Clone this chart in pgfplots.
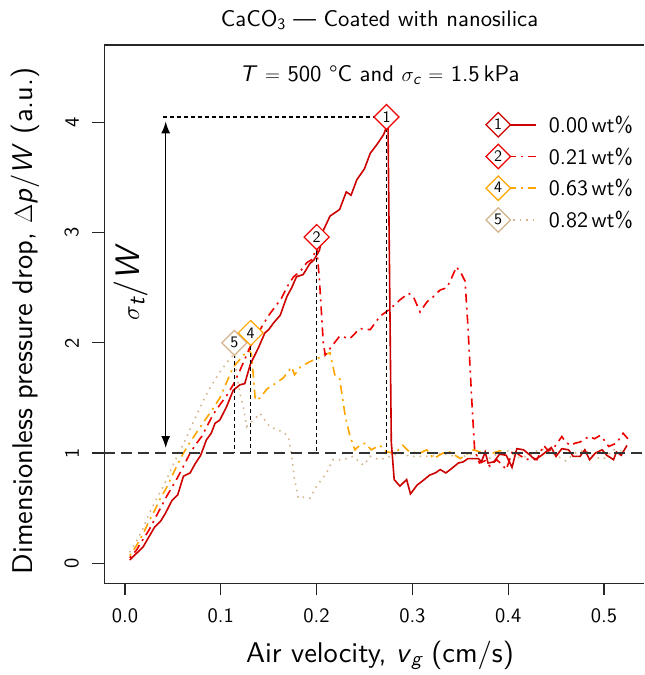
\documentclass[border=0pt]{standalone}
\usepackage{amsmath}
\usepackage{fontspec}
\setsansfont{lmsans10-regular.otf}[BoldFont=lmsans10-bold.otf, ItalicFont=lmsans10-oblique.otf]
\usepackage{pgfplots}
\pgfplotsset{compat=1.18}
\usetikzlibrary{arrows.meta,shapes.geometric}
\renewcommand{\familydefault}{\sfdefault}
\definecolor{c1}{RGB}{205,0,0}
\definecolor{c2}{RGB}{238,0,0}
\definecolor{c4}{RGB}{255,165,0}
\definecolor{c5}{RGB}{210,180,140}
\newcommand{\basefont}{\fontsize{20.5}{24}\selectfont}
\newcommand{\txtfont}{\fontsize{22.7}{27}\selectfont}
\newcommand{\legfont}{\fontsize{22}{26}\selectfont}
\newcommand{\labfont}{\fontsize{28.5}{33}\selectfont}
\newcommand{\mkfont}{\fontsize{16}{16}\selectfont}
\newcommand{\si}[1]{\textit{#1}}
\tikzset{mdiam/.style={diamond, aspect=1, minimum width=25pt, minimum height=25pt, inner sep=0pt, fill=white, line width=1.2pt, text=black, font=\mkfont}}
\begin{document}
\begin{tikzpicture}
\begin{axis}[
  scale only axis, width=539.7pt, height=538.3pt,
  xmin=-0.0216, xmax=0.5418, ymin=-0.1815, ymax=4.703,
  axis x line*=bottom, axis y line*=left,
  axis line style={line width=1.2pt, black!85, -},
  xtick={0,0.1,0.2,0.3,0.4,0.5}, ytick={0,1,2,3,4},
  tick align=outside, major tick length=12pt,
  tick style={line width=1.2pt, black!85},
  /pgf/number format/assume math mode=true,
  tick label style={font=\basefont},
  xticklabel style={/pgf/number format/fixed, /pgf/number format/fixed zerofill, /pgf/number format/precision=1},
  yticklabel style={rotate=90, anchor=south},
  xticklabel shift=10pt, yticklabel shift=10pt,
  clip=false,
  legend cell align=left,
  legend style={at={(axis cs:0.376,4.097)}, anchor=north west, draw=none, fill=none, inner sep=0pt, row sep=6pt, column sep=10pt, font=\legfont, nodes={inner sep=2pt}},
]
\addlegendimage{legend image code/.code={\draw[c1, line width=1.6pt] (15pt,0pt) -- (51pt,0pt); \node[mdiam, draw=c1] at (0pt,0pt) {1};}}
\addlegendentry{0.00\,wt\%}
\addlegendimage{legend image code/.code={\draw[c2, line width=1.6pt, dash pattern=on 2pt off 5pt on 9pt off 5pt] (15pt,0pt) -- (51pt,0pt); \node[mdiam, draw=c2] at (0pt,0pt) {2};}}
\addlegendentry{0.21\,wt\%}
\addlegendimage{legend image code/.code={\draw[c4, line width=1.6pt, dash pattern=on 2pt off 5pt on 9pt off 5pt] (15pt,0pt) -- (51pt,0pt); \node[mdiam, draw=c4] at (0pt,0pt) {4};}}
\addlegendentry{0.63\,wt\%}
\addlegendimage{legend image code/.code={\draw[c5, line width=1.6pt, dash pattern=on 1.5pt off 5pt] (15pt,0pt) -- (51pt,0pt); \node[mdiam, draw=c5] at (0pt,0pt) {5};}}
\addlegendentry{0.82\,wt\%}

% 0.82 wt% (tan dotted)
\addplot[forget plot, c5, line width=1.6pt, dash pattern=on 1.5pt off 5pt] table {
0.005 0.10
0.012 0.20
0.019 0.32
0.025 0.45
0.031 0.55
0.037 0.65
0.043 0.75
0.049 0.87
0.056 1.00
0.062 1.10
0.068 1.22
0.075 1.35
0.082 1.48
0.088 1.58
0.095 1.68
0.101 1.76
0.108 1.84
0.1145 1.90
0.116 1.75
0.120 1.54
0.1235 1.42
0.127 1.24
0.134 1.30
0.141 1.36
0.151 1.24
0.165 1.19
0.1705 1.15
0.174 0.97
0.177 0.76
0.181 0.59
0.186 0.60
0.193 0.59
0.200 0.70
0.2105 0.82
0.217 0.94
0.228 0.94
0.238 0.97
0.249 0.89
0.256 0.97
0.266 0.94
0.277 0.97
0.287 1.00
0.298 0.97
0.308 0.97
0.320 0.97
0.330 1.00
0.340 0.98
0.350 0.96
0.360 0.99
0.370 0.97
0.380 0.95
0.390 1.00
0.400 1.02
0.410 0.96
0.420 0.97
0.430 1.02
0.440 1.04
0.450 0.98
0.460 0.93
0.470 1.00
0.480 1.03
0.490 0.96
0.500 0.95
0.510 1.03
0.520 1.02
};
% 0.63 wt% (orange dash-dot)
\addplot[forget plot, c4, line width=1.6pt, dash pattern=on 2pt off 5pt on 9pt off 5pt] table {
0.005 0.07
0.012 0.16
0.019 0.27
0.025 0.38
0.031 0.48
0.037 0.59
0.043 0.68
0.049 0.79
0.055 0.90
0.061 1.00
0.068 1.10
0.075 1.19
0.082 1.28
0.090 1.38
0.099 1.50
0.106 1.64
0.113 1.78
0.120 1.85
0.129 1.94
0.132 1.90
0.134 1.70
0.136 1.48
0.141 1.50
0.148 1.58
0.155 1.62
0.165 1.68
0.174 1.78
0.177 1.71
0.183 1.78
0.193 1.83
0.204 1.87
0.207 1.89
0.214 1.91
0.219 1.71
0.224 1.68
0.230 1.33
0.235 1.15
0.240 1.03
0.245 1.07
0.251 1.09
0.257 1.03
0.266 1.07
0.273 1.01
0.282 1.00
0.290 1.07
0.297 1.01
0.308 1.00
0.315 1.03
0.322 0.95
0.332 1.00
0.339 1.01
0.350 0.95
0.364 1.03
0.374 1.00
0.384 1.00
0.395 1.03
};
% 0.21 wt% (red dash-dot)
\addplot[forget plot, c2, line width=1.6pt, dash pattern=on 2pt off 5pt on 9pt off 5pt] table {
0.005 0.05
0.012 0.12
0.019 0.22
0.025 0.30
0.031 0.40
0.037 0.50
0.043 0.60
0.049 0.69
0.055 0.78
0.061 0.88
0.068 1.00
0.074 1.08
0.080 1.15
0.086 1.25
0.092 1.35
0.100 1.45
0.106 1.52
0.113 1.62
0.120 1.75
0.126 1.87
0.131 1.97
0.137 2.05
0.143 2.15
0.150 2.25
0.157 2.33
0.163 2.40
0.170 2.52
0.176 2.60
0.183 2.65
0.190 2.73
0.196 2.76
0.200 2.88
0.203 2.57
0.207 2.00
0.209 1.89
0.215 1.96
0.224 2.06
0.235 2.04
0.245 2.13
0.256 2.12
0.266 2.24
0.277 2.31
0.287 2.39
0.296 2.45
0.301 2.42
0.308 2.28
0.315 2.37
0.322 2.42
0.329 2.48
0.336 2.50
0.341 2.59
0.346 2.69
0.351 2.63
0.355 2.56
0.358 2.15
0.362 1.48
0.365 1.03
0.370 0.91
0.376 0.93
0.381 0.88
0.388 0.94
0.393 0.90
0.398 0.85
0.405 1.03
0.412 0.98
0.419 0.94
0.425 0.96
0.430 0.94
0.437 1.07
0.442 1.02
0.447 1.04
0.452 1.10
0.456 1.15
0.460 1.10
0.465 1.07
0.470 1.09
0.475 1.10
0.480 1.13
0.485 1.15
0.490 1.13
0.496 1.16
0.500 1.12
0.505 1.06
0.513 1.09
0.520 1.18
0.525 1.13
};
% 0.00 wt% (red solid)
\addplot[forget plot, c1, line width=1.6pt] table {
0.005 0.03
0.012 0.09
0.019 0.15
0.025 0.24
0.031 0.33
0.037 0.38
0.042 0.45
0.049 0.57
0.055 0.62
0.061 0.79
0.068 0.82
0.073 0.90
0.079 0.98
0.085 1.12
0.090 1.18
0.094 1.27
0.099 1.30
0.106 1.42
0.113 1.57
0.120 1.62
0.125 1.63
0.131 1.81
0.139 1.95
0.146 2.09
0.150 2.12
0.155 2.18
0.162 2.25
0.169 2.42
0.174 2.50
0.179 2.60
0.186 2.62
0.193 2.72
0.197 2.75
0.203 2.84
0.207 3.02
0.214 3.15
0.224 3.21
0.231 3.37
0.236 3.34
0.242 3.48
0.250 3.58
0.256 3.72
0.263 3.80
0.270 3.89
0.273 3.96
0.2745 4.02
0.278 1.10
0.281 0.76
0.287 0.70
0.294 0.76
0.298 0.63
0.305 0.71
0.311 0.75
0.318 0.80
0.324 0.82
0.329 0.85
0.335 0.82
0.341 0.86
0.348 0.91
0.353 0.92
0.358 0.95
0.364 0.95
0.369 0.95
0.372 0.92
0.376 1.01
0.379 0.91
0.385 0.92
0.391 0.99
0.398 0.98
0.404 0.87
0.409 1.04
0.416 1.03
0.423 0.98
0.428 0.94
0.435 0.98
0.442 1.03
0.445 1.05
0.450 0.97
0.456 1.04
0.463 1.03
0.468 0.97
0.475 0.97
0.480 1.03
0.485 0.94
0.491 1.00
0.498 1.03
0.503 0.98
0.510 0.94
0.513 1.01
0.518 0.98
0.524 1.07
};

% reference lines
\addplot[forget plot, black!80, line width=1.4pt, dash pattern=on 11pt off 6pt] coordinates {(-0.0216,1) (0.5418,1)};
\addplot[forget plot, black, line width=1.2pt, dash pattern=on 4pt off 3pt] coordinates {(0.1141,1.90) (0.1141,1)};
\addplot[forget plot, black, line width=1.2pt, dash pattern=on 4pt off 3pt] coordinates {(0.1312,1.97) (0.1312,1)};
\addplot[forget plot, black, line width=1.2pt, dash pattern=on 4pt off 3pt] coordinates {(0.2001,2.90) (0.2001,1)};
\addplot[forget plot, black, line width=1.2pt, dash pattern=on 4pt off 3pt] coordinates {(0.273,3.95) (0.273,1)};
\addplot[forget plot, black, line width=1.2pt, dash pattern=on 4pt off 3pt] coordinates {(0.040,4.05) (0.262,4.05)};
\draw[black, line width=1.4pt, {Latex[length=12pt,width=9pt]}-{Latex[length=12pt,width=9pt]}] (axis cs:0.0425,1.046) -- (axis cs:0.0425,4.01);

% peak markers
\addplot[forget plot, only marks, mark=square*, mark size=8.84pt, mark options={rotate=45, draw=c5, fill=white, line width=1.2pt, solid}] coordinates {(0.1141,2.00)};
\addplot[forget plot, black, only marks, mark=text, text mark={\mkfont 5}] coordinates {(0.1141,2.00)};
\addplot[forget plot, only marks, mark=square*, mark size=8.84pt, mark options={rotate=45, draw=c4, fill=white, line width=1.2pt, solid}] coordinates {(0.1312,2.09)};
\addplot[forget plot, black, only marks, mark=text, text mark={\mkfont 4}] coordinates {(0.1312,2.09)};
\addplot[forget plot, only marks, mark=square*, mark size=8.84pt, mark options={rotate=45, draw=c2, fill=white, line width=1.2pt, solid}] coordinates {(0.2001,2.96)};
\addplot[forget plot, black, only marks, mark=text, text mark={\mkfont 2}] coordinates {(0.2001,2.96)};
\addplot[forget plot, only marks, mark=square*, mark size=8.84pt, mark options={rotate=45, draw=c2, fill=white, line width=1.2pt, solid}] coordinates {(0.273,4.05)};
\addplot[forget plot, black, only marks, mark=text, text mark={\mkfont 1}] coordinates {(0.273,4.05)};

% frame top line, texts
\draw[line width=1.2pt, black!85] (rel axis cs:0,1) -- (rel axis cs:1,1);
\node[font=\txtfont] at (axis cs:0.2657,4.93) {CaCO\textsubscript{3} --- Coated with nanosilica};
\node[font=\txtfont] at (axis cs:0.2657,4.43) {\si{T} $=$ 500 °C and $\sigma_{\si{c}}$ $=$ 1.5\,kPa};
\node[font=\fontsize{34}{38}\selectfont, rotate=90] at (axis cs:0.006,2.553) {$\sigma_{\si{t}}$/\si{W}};
\node[font=\labfont] at (axis cs:0.2662,-0.835) {Air velocity, \si{v}$_{\si{g}}$ (cm/s)};
\node[font=\labfont, rotate=90] at (axis cs:-0.1044,2.20) {Dimensionless pressure drop, $\Delta$\si{p}/\si{W} (a.u.)};
\coordinate (BL) at (rel axis cs:0,0);
\coordinate (TR) at (rel axis cs:1,1);
\end{axis}
\pgfresetboundingbox
\path[use as bounding box] ([xshift=-104.3pt,yshift=-91.7pt]BL) rectangle ([yshift=45pt]TR);
\end{tikzpicture}
\end{document}
